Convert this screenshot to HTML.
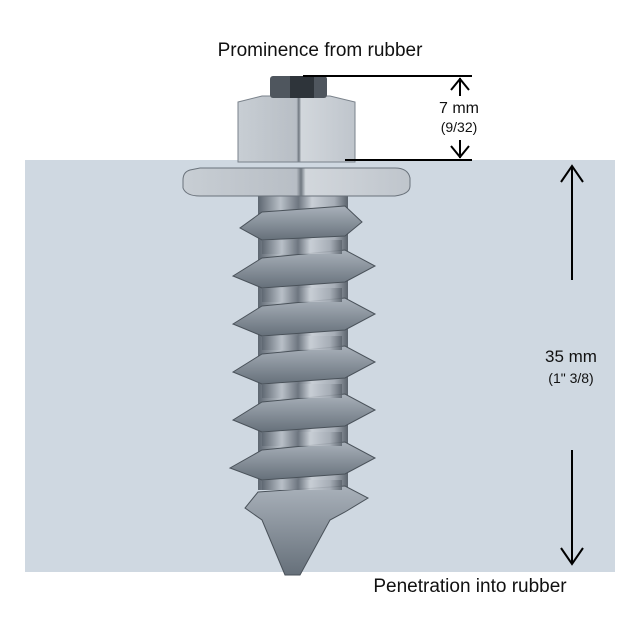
<!DOCTYPE html>
<html><head><style>
html,body{margin:0;padding:0;background:#fff;}
svg{display:block;}
text{font-family:"Liberation Sans",sans-serif;fill:#111;}
</style></head><body>
<svg width="640" height="640" viewBox="0 0 640 640" xmlns="http://www.w3.org/2000/svg">
<defs>
<linearGradient id="m" x1="0" x2="1" y1="0" y2="0">
<stop offset="0" stop-color="#5d6670"/><stop offset="0.25" stop-color="#b9c0c8"/>
<stop offset="0.45" stop-color="#6e7680"/><stop offset="0.6" stop-color="#c9cfd6"/>
<stop offset="0.85" stop-color="#a6adb6"/><stop offset="1" stop-color="#5b636c"/>
</linearGradient>
<linearGradient id="t" x1="0" x2="0" y1="0" y2="1">
<stop offset="0" stop-color="#a9b1ba"/><stop offset="1" stop-color="#66707a"/>
</linearGradient>
<linearGradient id="h" x1="0" x2="1">
<stop offset="0" stop-color="#c8ced4"/><stop offset="0.5" stop-color="#b8bec5"/><stop offset="0.52" stop-color="#6f7780"/><stop offset="0.54" stop-color="#d2d7dc"/><stop offset="1" stop-color="#bfc5cc"/>
</linearGradient>
</defs>
<rect x="25" y="160" width="590" height="412" fill="#cfd8e1"/>
<rect x="258" y="190" width="90" height="300" fill="url(#m)"/>
<g fill="url(#t)" stroke="#4a525a" stroke-width="1">
<polygon points="262,212 345,206 362,222 345,236 262,240 240,228"/>
<polygon points="262,258 345,250 375,266 345,282 262,288 233,276"/>
<polygon points="262,306 345,298 375,314 345,330 262,336 233,324"/>
<polygon points="262,354 345,346 375,362 345,378 262,384 233,372"/>
<polygon points="262,402 345,394 375,410 345,426 262,432 233,420"/>
<polygon points="262,450 345,442 375,458 345,474 262,480 230,468"/>
<polygon points="258,492 345,486 368,498 345,512 330,520 300,575 285,575 262,520 245,508"/>
</g>
<g fill="url(#m)" opacity="0.85">
<rect x="262" y="240" width="80" height="14"/>
<rect x="262" y="288" width="80" height="14"/>
<rect x="262" y="336" width="80" height="14"/>
<rect x="262" y="384" width="80" height="14"/>
<rect x="262" y="432" width="80" height="14"/>
<rect x="262" y="480" width="80" height="10"/>
</g>
<path d="M190 170 Q183 172 183 180 L183 188 Q186 196 200 196 L395 196 Q410 194 410 186 L410 178 Q408 168 395 168 L200 168 Z" fill="url(#h)" stroke="#6a727b"/>
<polygon points="238,102 262,96 330,96 355,102 355,162 238,162" fill="url(#h)" stroke="#7a828b"/>
<rect x="270" y="76" width="57" height="22" rx="3" fill="#4f565e"/>
<rect x="290" y="76" width="24" height="22" fill="#2e343a"/>
<g stroke="#000" stroke-width="2" fill="none">
<line x1="303" y1="76" x2="472" y2="76"/>
<line x1="345" y1="160" x2="472" y2="160"/>
<line x1="460" y1="78" x2="460" y2="96"/>
<polyline points="451,90 460,79 469,90"/>
<line x1="460" y1="140" x2="460" y2="158"/>
<polyline points="451,146 460,157 469,146"/>
<line x1="572" y1="166" x2="572" y2="280"/>
<polyline points="561,182 572,166 583,182"/>
<line x1="572" y1="450" x2="572" y2="564"/>
<polyline points="561,548 572,564 583,548"/>
</g>
<text x="320" y="56" font-size="19" text-anchor="middle">Prominence from rubber</text>
<text x="459" y="113" font-size="16" text-anchor="middle">7 mm</text>
<text x="459" y="132" font-size="14" text-anchor="middle">(9/32)</text>
<text x="571" y="362" font-size="17" text-anchor="middle">35 mm</text>
<text x="571" y="383" font-size="14" text-anchor="middle">(1" 3/8)</text>
<text x="470" y="592" font-size="19" text-anchor="middle">Penetration into rubber</text>
</svg>
</body></html>
